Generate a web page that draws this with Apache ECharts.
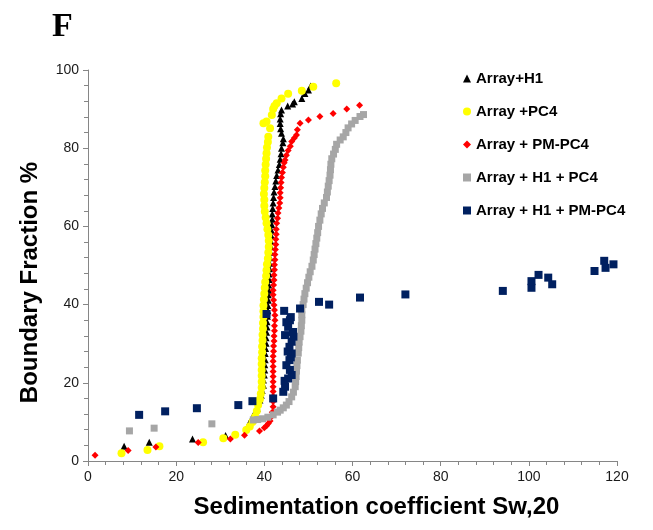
<!DOCTYPE html>
<html>
<head>
<meta charset="utf-8">
<script src="https://cdn.jsdelivr.net/npm/echarts@6/dist/echarts.min.js"></script>
<style>
  html, body { margin: 0; padding: 0; background: #fff; }
  #chart { width: 653px; height: 530px; }
</style>
</head>
<body>
<div id="chart"></div>
<script>
// Axis ticks
const xTicks = [0, 20, 40, 60, 80, 100, 120];
const yTicks = [0, 20, 40, 60, 80, 100];

const seriesNames = ['Array+H1', 'Array +PC4', 'Array + PM-PC4', 'Array + H1 + PC4', 'Array + H1 + PM-PC4'];

// [sedimentation coefficient, boundary fraction %]
const arrayH1 = [
  [8.2,3.8],[13.9,4.8],[23.7,5.6],[31.2,6.5],[36.5,9.6],[37.1,10.9],[37.6,11.8],[37.9,12.6],[38.4,13.5],
  [39.0,15.6],[39.3,16.8],[39.5,18.0],[39.8,19.4],[39.8,20.7],[40.0,22.0],[40.1,23.3],[40.1,24.6],
  [40.2,25.9],[40.2,27.5],[40.3,28.8],[40.4,30.1],[40.4,31.5],[40.5,32.9],[40.6,34.3],[40.6,35.6],
  [40.7,37.0],[40.8,38.4],[40.8,39.8],[40.9,41.1],[40.9,42.5],[41.0,43.7],[41.0,45.0],[41.1,46.4],
  [41.1,47.8],[41.2,49.2],[41.2,50.6],[41.3,52.0],[41.4,53.4],[41.5,54.8],[41.5,56.2],[41.6,57.6],
  [41.6,59.0],[41.7,60.4],[41.8,61.8],[41.8,63.2],[41.9,64.6],[42.0,66.0],[42.1,67.4],[42.2,68.8],
  [42.4,70.2],[42.6,71.6],[42.8,73.0],[43.1,74.4],[43.4,75.8],[43.6,77.2],[43.8,78.6],[43.9,80.0],
  [44.2,81.4],[44.3,82.4],[43.9,83.8],[43.7,85.0],[43.6,86.3],[43.6,87.5],[43.7,88.8],[43.9,89.8],
  [45.3,90.8],[46.4,91.3],[46.8,91.9],[48.5,92.7],[49.2,94.0],[50.0,94.9],[50.5,95.9]
];
const arrayPC4 = [
  [7.6,2.0],[13.5,2.8],[16.2,3.8],[26.1,4.8],[30.7,5.8],[33.4,6.7],[35.9,7.9],[36.7,8.8],[37.3,10.0],
  [37.9,11.3],[38.3,12.8],[38.6,14.3],[39.0,15.8],[39.2,17.2],[39.4,18.8],[39.4,20.3],[39.4,21.8],
  [39.4,23.3],[39.4,24.8],[39.4,26.3],[39.5,27.8],[39.5,29.3],[39.6,30.8],[39.6,32.3],[39.7,33.8],
  [39.7,35.3],[39.8,36.8],[39.8,38.3],[39.8,39.8],[39.9,41.3],[40.0,42.8],[40.1,44.3],[40.2,45.8],
  [40.4,47.3],[40.5,48.8],[40.6,50.3],[40.8,51.8],[40.9,53.3],[41.0,54.8],[41.0,56.3],[40.9,57.8],
  [40.7,59.3],[40.5,60.8],[40.3,62.3],[40.1,63.8],[40.0,65.3],[40.0,66.8],[39.9,68.3],[40.0,69.8],
  [40.1,71.3],[40.2,72.8],[40.2,74.3],[40.3,75.8],[40.4,77.3],[40.5,78.7],[40.6,80.2],[40.8,81.6],
  [40.9,82.9],[41.3,85.1],[39.8,86.4],[40.5,86.8],[41.7,88.5],[42.0,90.0],[42.3,90.8],[42.8,91.5],
  [43.9,92.7],[45.4,93.9],[48.5,94.7],[51.1,95.7],[56.3,96.6]
];
const arrayPMPC4 = [
  [1.6,1.5],[9.1,2.7],[15.4,3.6],[25.0,4.7],[32.3,5.6],[35.5,6.6],[38.9,7.7],[40.0,8.5],[40.5,9.0],
  [40.9,9.6],[41.3,10.2],[41.6,11.3],[41.8,12.5],[42.0,13.9],[42.0,15.2],[42.0,16.5],[42.0,17.8],
  [42.0,19.0],[42.0,20.3],[42.0,21.6],[42.0,22.9],[42.0,24.2],[42.0,25.5],[42.0,26.8],[42.1,28.1],
  [42.1,29.4],[42.2,30.7],[42.2,32.0],[42.3,33.3],[42.3,34.6],[42.4,36.0],[42.4,37.3],[42.3,38.6],
  [42.2,39.9],[42.1,41.2],[42.0,42.5],[42.0,43.7],[42.1,45.0],[42.2,46.3],[42.2,47.6],[42.3,48.9],
  [42.3,50.2],[42.4,51.5],[42.4,52.8],[42.5,54.1],[42.6,55.4],[42.6,56.7],[42.7,58.0],[42.7,59.3],
  [42.8,60.8],[43.0,62.1],[43.1,63.4],[43.3,64.7],[43.5,66.0],[43.6,67.3],[43.6,68.6],[43.7,69.9],
  [43.8,71.2],[43.9,72.5],[44.1,73.8],[44.3,75.1],[44.5,76.3],[44.7,77.0],[45.0,78.2],[45.4,79.4],
  [45.9,80.5],[46.2,81.7],[46.8,82.6],[47.3,83.4],[47.5,84.7],[48.1,86.4],[50.0,87.2],[52.6,88.1],
  [55.6,88.9],[58.7,90.0],[61.6,91.0]
];
const arrayH1PC4 = [
  [9.4,7.7],[15.0,8.4],[28.1,9.5],[37.5,10.5],[38.5,10.6],[39.6,10.8],[40.8,11.2],[42.0,11.8],
  [43.0,12.5],[43.6,13.0],[44.3,13.6],[45.0,14.3],[45.6,15.2],[46.2,16.4],[46.6,17.6],[47.0,19.0],
  [47.1,20.3],[47.2,21.6],[47.3,23.0],[47.4,24.4],[47.5,25.8],[47.7,27.6],[47.8,29.0],[47.9,30.4],
  [48.1,31.8],[48.3,33.2],[48.4,34.6],[48.5,36.0],[48.5,37.4],[48.5,38.6],[48.8,40.0],[49.0,41.4],
  [49.2,42.8],[49.5,44.2],[49.8,45.6],[50.1,47.0],[50.4,48.4],[50.8,49.8],[51.1,51.4],[51.3,52.8],
  [51.5,54.2],[51.7,55.6],[51.9,57.0],[52.1,58.4],[52.3,60.0],[52.6,61.6],[52.9,63.2],[53.2,64.6],
  [53.6,66.0],[54.1,67.4],[54.3,68.8],[54.5,70.3],[54.7,71.7],[54.9,73.1],[55.0,74.5],[55.1,75.9],
  [55.3,77.3],[55.7,78.5],[56.1,79.7],[56.4,81.0],[57.2,82.1],[57.9,82.9],[58.5,84.0],[59.0,85.2],
  [59.8,86.2],[60.6,87.1],[61.7,88.1],[62.5,88.6]
];
const arrayH1PMPC4 = [
  [11.6,11.8],[17.5,12.7],[24.7,13.5],[34.1,14.3],[37.3,15.3],[42.0,16.0],[44.3,17.7],[44.7,19.0],
  [44.6,20.5],[45.4,21.1],[46.2,22.0],[45.8,23.3],[45.0,24.5],[45.7,25.8],[46.0,26.5],[46.2,27.5],
  [45.3,28.0],[45.7,29.2],[46.2,30.5],[44.7,32.2],[46.6,31.8],[46.5,33.0],[45.4,34.3],[45.0,35.5],
  [45.8,36.0],[46.0,36.8],[40.5,37.6],[44.5,38.4],[48.1,39.0],[52.4,40.7],[54.7,40.0],[61.7,41.8],
  [72.0,42.6],[94.1,43.5],[100.6,44.3],[100.6,46.0],[102.2,47.6],[104.4,46.9],[105.3,45.2],
  [114.9,48.6],[117.1,51.2],[117.4,49.4],[119.2,50.3]
];

const chart = echarts.init(document.getElementById('chart'), null, { renderer: 'canvas' });

const axisColor = '#868686';
const labelFont = { fontFamily: 'Liberation Sans', fontSize: 14, color: '#1a1a1a' };
const titleFont = { fontFamily: 'Liberation Sans', fontWeight: 'bold', fontSize: 24, color: '#000' };

chart.setOption({
  backgroundColor: '#ffffff',
  animation: false,
  title: {
    text: 'F',
    left: 47,
    top: 5,
    textStyle: { fontFamily: 'Liberation Serif', fontWeight: 'bold', fontSize: 34, color: '#000' }
  },
  legend: {
    orient: 'vertical',
    left: 463,
    top: 71,
    padding: 0,
    itemWidth: 8,
    itemHeight: 8,
    itemGap: 18,
    data: seriesNames,
    textStyle: { fontFamily: 'Liberation Sans', fontWeight: 'bold', fontSize: 15, color: '#000', lineHeight: 14 }
  },
  grid: { left: 88, right: 36, top: 70, bottom: 69, containLabel: false },
  xAxis: {
    type: 'value',
    min: xTicks[0],
    max: xTicks[xTicks.length - 1],
    interval: 20,
    name: 'Sedimentation coefficient Sw,20',
    nameLocation: 'middle',
    nameGap: 34,
    nameTextStyle: Object.assign({ padding: [0, 0, 0, 48] }, titleFont),
    axisLine: { show: true, lineStyle: { color: axisColor, width: 1 } },
    axisTick: { show: true, length: 5, lineStyle: { color: axisColor } },
    minorTick: { show: true, splitNumber: 5, length: 4, lineStyle: { color: axisColor } },
    splitLine: { show: false },
    axisLabel: Object.assign({ margin: 9 }, labelFont)
  },
  yAxis: {
    type: 'value',
    min: yTicks[0],
    max: yTicks[yTicks.length - 1],
    interval: 20,
    name: 'Boundary Fraction %',
    nameLocation: 'middle',
    nameGap: 46,
    nameTextStyle: Object.assign({ padding: [0, 34, 0, 0] }, titleFont),
    axisLine: { show: true, lineStyle: { color: axisColor, width: 1 } },
    axisTick: { show: true, length: 5, lineStyle: { color: axisColor } },
    minorTick: { show: true, splitNumber: 5, length: 4, lineStyle: { color: axisColor } },
    splitLine: { show: false },
    axisLabel: Object.assign({ margin: 9 }, labelFont)
  },
  series: [
    { name: seriesNames[0], type: 'scatter', data: arrayH1, symbol: 'triangle', symbolSize: 7,
      itemStyle: { color: '#000000', opacity: 1 } },
    { name: seriesNames[1], type: 'scatter', data: arrayPC4, symbol: 'circle', symbolSize: 8,
      itemStyle: { color: '#ffff00', opacity: 1 } },
    { name: seriesNames[2], type: 'scatter', data: arrayPMPC4, symbol: 'diamond', symbolSize: 7,
      itemStyle: { color: '#ff0000', opacity: 1 } },
    { name: seriesNames[3], type: 'scatter', data: arrayH1PC4, symbol: 'rect', symbolSize: 7,
      itemStyle: { color: '#a6a6a6', opacity: 1 } },
    { name: seriesNames[4], type: 'scatter', data: arrayH1PMPC4, symbol: 'rect', symbolSize: 8,
      itemStyle: { color: '#002060', opacity: 1 } }
  ]
});
</script>
</body>
</html>
